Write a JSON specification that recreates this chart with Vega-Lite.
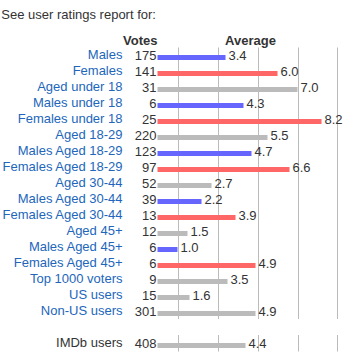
{
  "$schema": "https://vega.github.io/schema/vega-lite/v6.json",
  "width": 227,
  "height": 304,
  "autosize": "none",
  "padding": {"left": 126, "top": 47, "right": 0, "bottom": 9},
  "background": "white",
  "title": {
    "text": "See user ratings report for:",
    "anchor": "start",
    "frame": "bounds",
    "font": "Liberation Sans",
    "fontSize": 13,
    "fontWeight": "normal",
    "color": "#333333",
    "offset": 12
  },
  "config": {
    "font": "Liberation Sans",
    "view": {"stroke": null},
    "text": {"font": "Liberation Sans", "fontSize": 13}
  },
  "data": {
    "values": [
      {"label": "Males", "votes": 175, "avg": 3.4, "g": "M"},
      {"label": "Females", "votes": 141, "avg": 6.0, "g": "F"},
      {"label": "Aged under 18", "votes": 31, "avg": 7.0, "g": "A"},
      {"label": "Males under 18", "votes": 6, "avg": 4.3, "g": "M"},
      {"label": "Females under 18", "votes": 25, "avg": 8.2, "g": "F"},
      {"label": "Aged 18-29", "votes": 220, "avg": 5.5, "g": "A"},
      {"label": "Males Aged 18-29", "votes": 123, "avg": 4.7, "g": "M"},
      {"label": "Females Aged 18-29", "votes": 97, "avg": 6.6, "g": "F"},
      {"label": "Aged 30-44", "votes": 52, "avg": 2.7, "g": "A"},
      {"label": "Males Aged 30-44", "votes": 39, "avg": 2.2, "g": "M"},
      {"label": "Females Aged 30-44", "votes": 13, "avg": 3.9, "g": "F"},
      {"label": "Aged 45+", "votes": 12, "avg": 1.5, "g": "A"},
      {"label": "Males Aged 45+", "votes": 6, "avg": 1.0, "g": "M"},
      {"label": "Females Aged 45+", "votes": 6, "avg": 4.9, "g": "F"},
      {"label": "Top 1000 voters", "votes": 9, "avg": 3.5, "g": "A"},
      {"label": "US users", "votes": 15, "avg": 1.6, "g": "A"},
      {"label": "Non-US users", "votes": 301, "avg": 4.9, "g": "A"},
      {"label": "IMDb users", "votes": 408, "avg": 4.4, "g": "A"}
    ]
  },
  "encoding": {
    "y": {
      "field": "label",
      "type": "nominal",
      "sort": null,
      "scale": {
        "domain": ["Males", "Females", "Aged under 18", "Males under 18", "Females under 18", "Aged 18-29", "Males Aged 18-29", "Females Aged 18-29", "Aged 30-44", "Males Aged 30-44", "Females Aged 30-44", "Aged 45+", "Males Aged 45+", "Females Aged 45+", "Top 1000 voters", "US users", "Non-US users", " ", "IMDb users"],
        "paddingInner": 0,
        "paddingOuter": 0
      },
      "axis": {
        "orient": "left",
        "title": "Votes",
        "titleAngle": 0,
        "titleAlign": "right",
        "titleBaseline": "alphabetic",
        "titleX": 31,
        "titleY": -3,
        "titleFont": "Liberation Sans",
        "titleFontSize": 13,
        "titleFontWeight": "bold",
        "titleColor": "#333333",
        "labelFont": "Liberation Sans",
        "labelFontSize": 13,
        "labelColor": {"condition": {"test": "datum.value === 'IMDb users'", "value": "#333333"}, "value": "#2266bb"},
        "labelBaseline": "alphabetic",
        "labelOffset": 4,
        "labelPadding": 4,
        "labelLimit": 300,
        "ticks": false,
        "tickSize": 0,
        "domain": false,
        "grid": false
      }
    }
  },
  "layer": [
    {
      "data": {"values": [{"label": " "}]},
      "mark": {"type": "rect", "fill": "white"},
      "encoding": {}
    },
    {
      "mark": {"type": "bar", "height": 5, "yOffset": 2.5},
      "encoding": {
        "x": {
          "field": "avg",
          "type": "quantitative",
          "scale": {"domain": [-1.575, 9.775], "nice": false, "zero": false},
          "axis": {
            "orient": "top",
            "title": "Average",
            "titleX": 124,
            "titleY": -3,
            "titleAlign": "center",
            "titleBaseline": "alphabetic",
            "titleFont": "Liberation Sans",
            "titleFontSize": 13,
            "titleFontWeight": "bold",
            "titleColor": "#333333",
            "values": [1, 2, 3, 4, 5, 6, 7, 8, 9],
            "labels": false,
            "ticks": false,
            "domain": false,
            "grid": true,
            "gridColor": "#bbbbbb",
            "gridWidth": 1,
            "gridOpacity": 1
          }
        },
        "color": {
          "field": "g",
          "type": "nominal",
          "scale": {"domain": ["M", "F", "A"], "range": ["#6666ff", "#ff6666", "#bbbbbb"]},
          "legend": null
        }
      }
    },
    {
      "mark": {"type": "text", "align": "right", "baseline": "alphabetic", "dx": -1, "yOffset": 4.5, "color": "#333333"},
      "encoding": {
        "x": {"datum": 0, "type": "quantitative"},
        "text": {"field": "votes", "type": "quantitative"}
      }
    },
    {
      "mark": {"type": "text", "align": "left", "baseline": "alphabetic", "dx": 3, "yOffset": 4.5, "color": "#333333"},
      "encoding": {
        "x": {"field": "avg", "type": "quantitative"},
        "text": {"field": "avg", "type": "quantitative", "format": ".1f"}
      }
    }
  ]
}
